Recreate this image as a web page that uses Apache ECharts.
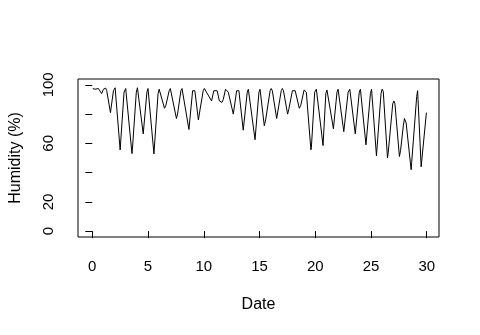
<!DOCTYPE html>
<html>
<head>
<meta charset="utf-8">
<script src="https://cdn.jsdelivr.net/npm/echarts@6/dist/echarts.min.js"></script>
<style>html,body{margin:0;padding:0;background:#fff}#c{width:480px;height:335px}</style>
</head>
<body>
<div id="c"></div>
<script>
// Day (x) and relative humidity (%)
var days = [0.05,0.25,0.4,0.55,0.84,1.0,1.2,1.3,1.63,1.9,2.05,2.15,2.5,2.85,3.0,3.15,3.56,3.6,3.95,4.05,4.15,4.57,4.9,5.0,5.1,5.53,5.9,6.0,6.1,6.48,6.6,6.9,7.0,7.1,7.55,7.65,7.95,8.05,8.15,8.67,9.0,9.1,9.2,9.52,9.6,9.95,10.05,10.2,10.7,10.9,11.05,11.2,11.4,11.63,11.75,11.95,12.1,12.2,12.65,12.95,13.05,13.15,13.54,13.9,14.0,14.1,14.6,14.95,15.05,15.43,15.55,15.65,15.95,16.05,16.15,16.54,16.95,17.05,17.15,17.52,17.62,17.95,18.05,18.2,18.57,18.7,19.0,19.1,19.2,19.61,19.65,19.95,20.1,20.2,20.7,20.95,21.05,21.15,21.63,21.95,22.05,22.15,22.56,22.95,23.1,23.2,23.59,23.95,24.05,24.15,24.55,24.95,25.05,25.15,25.49,25.9,26.0,26.1,26.48,26.55,26.95,27.05,27.15,27.55,27.65,27.9,28.0,28.1,28.15,28.6,28.65,29.1,29.18,29.22,29.5,29.55,29.97];
var humidity = [97.5,97,96,97.5,94,97,97.8,96,81,96,98,97,55.5,95,97.5,97,53,56,95,98,97,66.5,95,97.5,97,52.8,94,97,96.5,84,86,96,97.5,97,77,80,96,97.5,96.5,69.5,96,97,96,76,80,96,97.5,97,89,96,97,96,89,88,90,97,96.5,95,80,96,97,96,69,95,97,96,62.5,95,97,72,76,75,96,97.5,96,77,96,97.5,96,80,83,96,97,96,84,86,96.5,97,95,55.6,57,95,97,96,58.5,94,96.5,96,70,95,97,96.5,68,95,97,96.5,66.5,95,97,96,59,94,97,96,51.5,94,97,95.5,50,54,87,89,87,51,55,72,77,78,74,42,47,92,96,90,44,48,81];
var xTicks = [0,5,10,15,20,25,30];
var yTicks = [0,20,40,60,80,100];
var yLabels = [0,20,60,100];

var data = days.map(function(d,i){return [d, humidity[i]];});
var font = 'Liberation Sans, Arial, sans-serif';
var chart = echarts.init(document.getElementById('c'), null, {renderer:'canvas'});
chart.setOption({
  animation:false,
  backgroundColor:'#fff',
  grid:{left:78,right:41,top:79,bottom:98,show:true,borderColor:'#000',borderWidth:1,backgroundColor:'transparent'},
  xAxis:{
    type:'value',min:-1.28,max:31.1,
    name:'Date',nameLocation:'middle',nameGap:60,
    nameTextStyle:{color:'#000',fontSize:16,fontFamily:font},
    axisLine:{show:false},
    splitLine:{show:false},
    axisTick:{show:true,inside:false,length:7,customValues:xTicks,lineStyle:{color:'#000',width:1}},
    axisLabel:{show:true,customValues:xTicks,margin:22,color:'#000',fontSize:15,fontFamily:font}
  },
  yAxis:{
    type:'value',min:-4,max:104,
    name:'Humidity (%)',nameLocation:'middle',nameGap:54,nameRotate:90,
    nameTextStyle:{color:'#000',fontSize:16,fontFamily:font},
    axisLine:{show:false},
    splitLine:{show:false},
    axisTick:{show:true,inside:false,length:7,customValues:yTicks,lineStyle:{color:'#000',width:1}},
    axisLabel:{show:true,customValues:yLabels,rotate:90,margin:22,color:'#000',fontSize:15,fontFamily:font}
  },
  series:[{
    type:'line',data:data,showSymbol:false,symbol:'none',
    lineStyle:{color:'#000',width:1},
    itemStyle:{color:'#000'}
  }]
});
</script>
</body>
</html>
